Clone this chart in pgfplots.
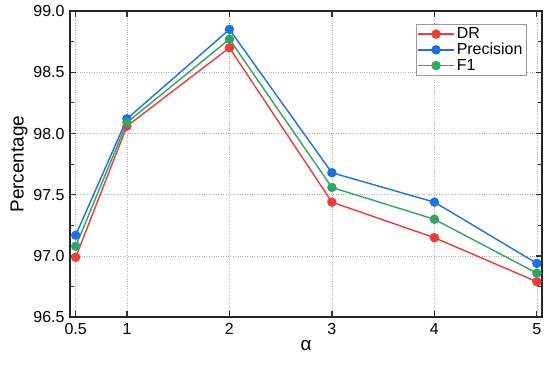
\documentclass[border=0pt]{standalone}
\usepackage{pgfplots}
\pgfplotsset{compat=1.18}
\usepackage{fontspec}
\setmainfont{Liberation Sans}
\definecolor{cR}{RGB}{242,58,58}
\definecolor{cB}{RGB}{28,112,226}
\definecolor{cG}{RGB}{44,168,98}
\begin{document}
\begin{tikzpicture}[x=1bp,y=1bp]
\useasboundingbox (-70,-50) rectangle (479.5,317);
\begin{axis}[
  scale only axis, width=471.5bp, height=306bp,
  at={(0,0)}, anchor=south west,
  xmin=0.445, xmax=5.05, ymin=96.5, ymax=99.0,
  xtick={0.5,1,2,3,4,5},
  xticklabels={0.5,1,2,3,4,5},
  ytick={96.5,97.0,97.5,98.0,98.5,99.0},
  minor ytick={96.75,97.25,97.75,98.25,98.75},
  yticklabel style={xshift=-2bp, /pgf/number format/.cd,fixed,fixed zerofill,precision=1},
  /pgf/number format/assume math mode=true,
  tick label style={font=\fontsize{16}{18}\selectfont, black},
  xticklabel style={yshift=-3bp},
  xlabel={α}, ylabel={Percentage},
  label style={font=\fontsize{19}{21}\selectfont},
  xlabel style={yshift=2bp},
  ylabel style={yshift=-1bp},
  tick align=inside,
  major tick length=6bp, minor tick length=4bp,
  every tick/.style={line width=1.2bp, black!80},
  axis line style={line width=1.6bp, black!85},
  grid=major,
  major grid style={dotted, gray!60, line width=0.6bp},
  legend style={at={(0.9665,0.9575)}, anchor=north east, draw=gray!80, line width=0.6bp,
    font=\fontsize{16}{18}\selectfont, row sep=-1bp, inner sep=1.5bp},
  legend cell align=left,
  legend image code/.code={\draw[mark repeat=2,mark phase=2] plot coordinates {(0bp,0bp) (18bp,0bp) (36bp,0bp)};},
  every axis plot/.append style={line width=1.4bp, mark=*, mark size=4bp},
]
\addplot[color=cR, mark options={fill=cR, draw=cR}] coordinates {(0.5,96.99) (1,98.06) (2,98.70) (3,97.44) (4,97.15) (5,96.79)};
\addlegendentry{DR}
\addplot[color=cB, mark options={fill=cB, draw=cB}] coordinates {(0.5,97.17) (1,98.12) (2,98.85) (3,97.68) (4,97.44) (5,96.94)};
\addlegendentry{Precision}
\addplot[color=cG, mark options={fill=cG, draw=cG}] coordinates {(0.5,97.08) (1,98.09) (2,98.77) (3,97.56) (4,97.30) (5,96.86)};
\addlegendentry{F1}
\end{axis}
\end{tikzpicture}
\end{document}
